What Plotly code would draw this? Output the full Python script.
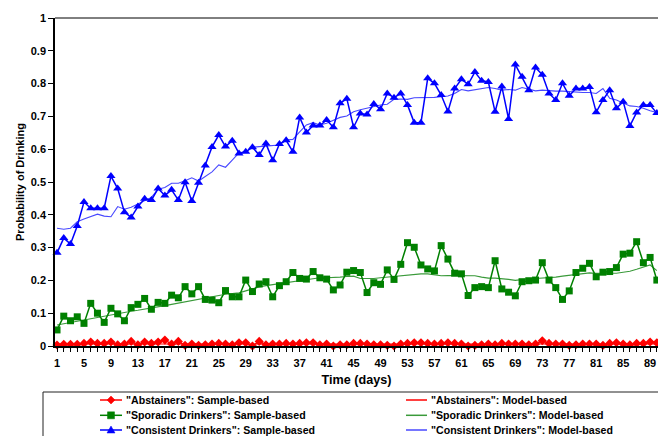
import plotly.graph_objects as go

days = list(range(1, 91))

abst_sample = [0.003, 0.005, 0.005, 0.005, 0.008, 0.012, 0.008, 0.008, 0.012, 0.004,
               0.006, 0.014, 0.004, 0.012, 0.008, 0.012, 0.018, 0.006, 0.014, 0.002,
               0.006, 0.002, 0.004, 0.006, 0.008, 0.006, 0.004, 0.010, 0.010, 0.000,
               0.014, 0.004, 0.006, 0.006, 0.008, 0.006, 0.008, 0.010, 0.010, 0.004,
               0.006, 0.000, 0.004, 0.004, 0.008, 0.008, 0.006, 0.004, 0.004, 0.002,
               0.000, 0.006, 0.008, 0.010, 0.010, 0.008, 0.006, 0.008, 0.010, 0.008,
               0.006, 0.000, 0.002, 0.004, 0.006, 0.004, 0.008, 0.006, 0.006, 0.006,
               0.004, 0.006, 0.016, 0.008, 0.006, 0.006, 0.002, 0.004, 0.006, 0.006,
               0.006, 0.002, 0.008, 0.010, 0.006, 0.004, 0.008, 0.008, 0.012, 0.010]

abst_model = [0.006] * 90

spor_sample = [0.049, 0.091, 0.077, 0.089, 0.069, 0.130, 0.100, 0.072, 0.115, 0.098,
               0.077, 0.117, 0.127, 0.145, 0.112, 0.133, 0.130, 0.155, 0.147, 0.181,
               0.159, 0.181, 0.142, 0.140, 0.132, 0.169, 0.150, 0.150, 0.201, 0.166,
               0.189, 0.196, 0.150, 0.184, 0.196, 0.224, 0.206, 0.204, 0.227, 0.208,
               0.204, 0.171, 0.186, 0.225, 0.230, 0.224, 0.163, 0.193, 0.188, 0.232,
               0.203, 0.249, 0.315, 0.301, 0.247, 0.235, 0.229, 0.306, 0.265, 0.222,
               0.220, 0.154, 0.178, 0.181, 0.178, 0.260, 0.174, 0.164, 0.153, 0.196,
               0.199, 0.201, 0.254, 0.201, 0.178, 0.142, 0.168, 0.224, 0.237, 0.252,
               0.211, 0.225, 0.227, 0.239, 0.280, 0.283, 0.318, 0.254, 0.270, 0.201]

spor_model = [0.064, 0.068, 0.072, 0.076, 0.080, 0.084, 0.088, 0.092, 0.096, 0.100,
              0.103, 0.106, 0.109, 0.112, 0.115, 0.119, 0.123, 0.127, 0.131, 0.135,
              0.139, 0.143, 0.147, 0.151, 0.155, 0.158, 0.160, 0.162, 0.168, 0.175,
              0.180, 0.184, 0.187, 0.190, 0.193, 0.195, 0.199, 0.203, 0.206, 0.208,
              0.208, 0.208, 0.210, 0.212, 0.213, 0.206, 0.205, 0.206, 0.208, 0.210,
              0.212, 0.215, 0.218, 0.219, 0.220, 0.220, 0.216, 0.214, 0.215, 0.215,
              0.216, 0.216, 0.214, 0.210, 0.207, 0.207, 0.206, 0.203, 0.200, 0.203,
              0.205, 0.206, 0.207, 0.208, 0.210, 0.213, 0.216, 0.218, 0.220, 0.223,
              0.222, 0.222, 0.222, 0.222, 0.225, 0.228, 0.234, 0.240, 0.247, 0.230]

cons_sample = [0.284, 0.329, 0.311, 0.366, 0.439, 0.420, 0.420, 0.420, 0.518, 0.480,
               0.408, 0.392, 0.425, 0.449, 0.445, 0.480, 0.459, 0.476, 0.445, 0.499,
               0.442, 0.498, 0.550, 0.607, 0.643, 0.608, 0.626, 0.587, 0.592, 0.606,
               0.582, 0.617, 0.566, 0.616, 0.627, 0.592, 0.697, 0.651, 0.672, 0.672,
               0.689, 0.667, 0.740, 0.754, 0.667, 0.709, 0.706, 0.738, 0.722, 0.770,
               0.757, 0.770, 0.735, 0.681, 0.681, 0.816, 0.801, 0.765, 0.715, 0.785,
               0.813, 0.798, 0.835, 0.809, 0.805, 0.714, 0.791, 0.692, 0.858, 0.821,
               0.780, 0.849, 0.827, 0.770, 0.750, 0.801, 0.763, 0.785, 0.785, 0.790,
               0.713, 0.750, 0.780, 0.725, 0.745, 0.671, 0.712, 0.735, 0.735, 0.710]

cons_model = [0.359, 0.356, 0.359, 0.379, 0.387, 0.394, 0.402, 0.396, 0.394, 0.425,
              0.417, 0.423, 0.433, 0.445, 0.453, 0.478, 0.483, 0.496, 0.496, 0.504,
              0.513, 0.503, 0.516, 0.531, 0.552, 0.545, 0.567, 0.589, 0.592, 0.606,
              0.608, 0.610, 0.612, 0.613, 0.628, 0.630, 0.653, 0.674, 0.681, 0.674,
              0.679, 0.689, 0.697, 0.701, 0.714, 0.720, 0.725, 0.730, 0.735, 0.737,
              0.752, 0.753, 0.752, 0.757, 0.757, 0.757, 0.758, 0.760, 0.762, 0.770,
              0.782, 0.778, 0.782, 0.785, 0.788, 0.785, 0.780, 0.782, 0.780, 0.788,
              0.782, 0.778, 0.780, 0.778, 0.777, 0.777, 0.775, 0.775, 0.773, 0.773,
              0.770, 0.785, 0.755, 0.750, 0.742, 0.732, 0.730, 0.725, 0.717, 0.712]

y_ticks = [0, 0.1, 0.2, 0.3, 0.4, 0.5, 0.6, 0.7, 0.8, 0.9, 1]
y_tick_labels = ["0", "0.1", "0.2", "0.3", "0.4", "0.5", "0.6", "0.7", "0.8", "0.9", "1"]
x_tick_labels = [str(d) if (d - 1) % 4 == 0 else "" for d in days]

legend_names = [
    ['"Abstainers": Sample-based', '"Abstainers": Model-based'],
    ['"Sporadic Drinkers": Sample-based', '"Sporadic Drinkers": Model-based'],
    ['"Consistent Drinkers": Sample-based', '"Consistent Drinkers": Model-based'],
]

FONT = "Liberation Sans, Arial, sans-serif"
RED, GREEN, BLUE = "#FF0000", "#008000", "#0000FF"
GREEN_M, BLUE_M = "#3A9A3A", "#4848FF"

# figure geometry (pixels)
W, H = 658, 436
ML, MT, MB = 55, 18, 90
PW, PH = W - ML, H - MT - MB


def px(x):
    return (x - ML) / PW


def py(y):
    return (H - MB - y) / PH


fig = go.Figure()

sample_specs = [
    (legend_names[0][0], abst_sample, RED, "diamond", 7),
    (legend_names[1][0], spor_sample, GREEN, "square", 7),
    (legend_names[2][0], cons_sample, BLUE, "triangle-up", 8),
]
model_specs = [
    (legend_names[0][1], abst_model, RED),
    (legend_names[1][1], spor_model, GREEN_M),
    (legend_names[2][1], cons_model, BLUE_M),
]

for (sname, svals, scol, sym, size), (mname, mvals, mcol) in zip(sample_specs, model_specs):
    fig.add_trace(go.Scatter(
        x=days, y=mvals, name=mname, mode="lines",
        line=dict(color=mcol, width=1.1), showlegend=False,
    ))
    fig.add_trace(go.Scatter(
        x=days, y=svals, name=sname, mode="lines+markers",
        line=dict(color=scol, width=1.5),
        marker=dict(symbol=sym, size=size, color=scol),
        cliponaxis=False, showlegend=False,
    ))

# custom legend (box, key lines, key markers, texts)
shapes = [
    dict(type="line", xref="paper", yref="paper", x0=0, x1=1.02, y0=1, y1=1,
         line=dict(color="black", width=1)),
    dict(type="rect", xref="paper", yref="paper", x0=px(43), x1=px(720), y0=py(392), y1=py(470),
         line=dict(color="#222222", width=1), fillcolor="rgba(0,0,0,0)"),
]
annotations = []
row_y = [400, 415.3, 430]
marker_paths = [
    "M 0 4 L 4 0 L 0 -4 L -4 0 Z",
    "M -3.5 -3.5 L 3.5 -3.5 L 3.5 3.5 L -3.5 3.5 Z",
    "M -4 -3 L 4 -3 L 0 4 Z",
]
sample_cols = [RED, GREEN, BLUE]
model_cols = [RED, GREEN_M, BLUE_M]
for i, yy in enumerate(row_y):
    # sample key
    shapes.append(dict(type="line", xref="paper", yref="paper", x0=px(100), x1=px(122),
                       y0=py(yy), y1=py(yy), line=dict(color=sample_cols[i], width=1.5)))
    shapes.append(dict(type="path", xref="paper", yref="paper", xsizemode="pixel", ysizemode="pixel",
                       xanchor=px(111), yanchor=py(yy), path=marker_paths[i],
                       fillcolor=sample_cols[i], line=dict(color=sample_cols[i], width=0.5)))
    annotations.append(dict(x=px(124), y=py(yy), xref="paper", yref="paper", xanchor="left",
                            yanchor="middle", showarrow=False, text="<b>" + legend_names[i][0] + "</b>",
                            font=dict(family=FONT, size=10.6, color="black")))
    # model key
    shapes.append(dict(type="line", xref="paper", yref="paper", x0=px(406), x1=px(427),
                       y0=py(yy), y1=py(yy), line=dict(color=model_cols[i], width=1.5)))
    annotations.append(dict(x=px(429), y=py(yy), xref="paper", yref="paper", xanchor="left",
                            yanchor="middle", showarrow=False, text="<b>" + legend_names[i][1] + "</b>",
                            font=dict(family=FONT, size=10.6, color="black")))

fig.update_layout(
    width=W, height=H,
    margin=dict(l=ML, r=0, t=MT, b=MB, autoexpand=False),
    paper_bgcolor="white", plot_bgcolor="white",
    font=dict(family=FONT, size=11, color="black"),
    showlegend=False,
    xaxis=dict(
        range=[0.70, 90.17], tickmode="array", tickvals=days, ticktext=x_tick_labels,
        ticks="outside", ticklen=4, tickwidth=1, tickcolor="black",
        showline=True, linecolor="black", linewidth=1.5, showgrid=False, zeroline=False,
        tickfont=dict(family=FONT, size=11, color="black", weight="bold"),
        ticklabelstandoff=2, ticklabeloverflow="allow", automargin=False,
        title=dict(text="<b>Time (days)</b>", font=dict(family=FONT, size=12.6, color="black"), standoff=7),
    ),
    yaxis=dict(
        range=[0, 1], tickmode="array", tickvals=y_ticks, ticktext=y_tick_labels,
        ticks="outside", ticklen=5, tickwidth=1, tickcolor="black",
        showline=True, linecolor="black", linewidth=1.5, showgrid=False, zeroline=False,
        tickfont=dict(family=FONT, size=11, color="black", weight="bold"),
        automargin=False,
        title=dict(text="<b>Probability of Drinking</b>", font=dict(family=FONT, size=11, color="black"), standoff=4),
    ),
    shapes=shapes,
    annotations=annotations,
)

fig.write_html(
    "out.html",
    config={"displayModeBar": False},
    post_script="document.body.style.margin='0';document.body.style.padding='0';document.body.style.overflow='hidden';",
)
